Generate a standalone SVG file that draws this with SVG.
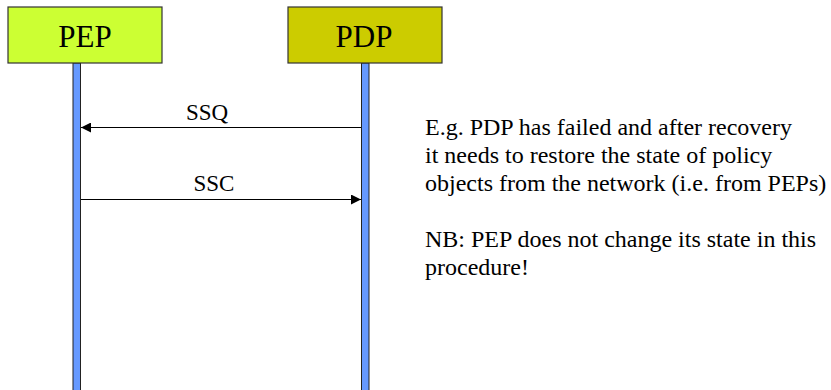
<svg xmlns="http://www.w3.org/2000/svg" width="831" height="390" viewBox="0 0 831 390">
  <style>
    .box { stroke: #333333; stroke-width: 1.2; }
    .life { fill: #6699FF; stroke: #222222; stroke-width: 1; }
    .arrow { stroke: #000; stroke-width: 1; fill: none; }
  </style>
  <defs>
    <marker id="head" viewBox="0 0 10 10" refX="10" refY="5" markerWidth="10" markerHeight="10" markerUnits="userSpaceOnUse" orient="auto">
      <path d="M0,0 L10,5 L0,10 Z" fill="#000"/>
    </marker>
  </defs>
  <rect width="831" height="390" fill="#FFFFFF"/>

  <g font-family="Liberation Serif, DejaVu Serif, serif" fill="#000">
    <g id="pep">
      <rect class="life" x="73" y="63" width="7.5" height="330"/>
      <rect class="box" x="8" y="7" width="154" height="56" fill="#CCFF33"/>
      <text x="85" y="47" font-size="31" text-anchor="middle">PEP</text>
    </g>

    <g id="pdp">
      <rect class="life" x="361.5" y="63" width="7.5" height="330"/>
      <rect class="box" x="288" y="7" width="154" height="56" fill="#CCCC00"/>
      <text x="364" y="47" font-size="31" text-anchor="middle">PDP</text>
    </g>

    <g id="connectors">
      <line class="arrow" x1="361" y1="127.5" x2="81" y2="127.5" marker-end="url(#head)"/>
      <text x="207" y="120" font-size="23" text-anchor="middle">SSQ</text>
      <line class="arrow" x1="81" y1="199.5" x2="361" y2="199.5" marker-end="url(#head)"/>
      <text x="214" y="191" font-size="23" text-anchor="middle">SSC</text>
    </g>

    <g id="note" font-size="24">
      <text x="425" y="135">E.g. PDP has failed and after recovery</text>
      <text x="425" y="163">it needs to restore the state of policy</text>
      <text x="425" y="191">objects from the network (i.e. from PEPs)</text>
      <text x="425" y="247">NB: PEP does not change its state in this</text>
      <text x="425" y="275">procedure!</text>
    </g>
  </g>
</svg>
